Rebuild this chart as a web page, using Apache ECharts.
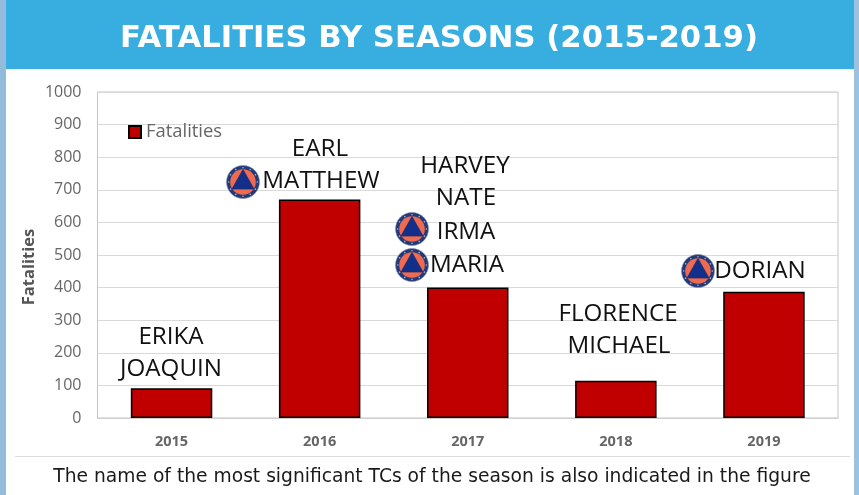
<!DOCTYPE html>
<html><head><meta charset="utf-8">
<style>html,body{margin:0;padding:0;background:#fff;overflow:hidden}#c{width:859px;height:495px}</style>
<script src="https://cdn.jsdelivr.net/npm/echarts@6/dist/echarts.min.js"></script>
</head><body><div id="c"></div>
<script>
const categories = ['2015','2016','2017','2018','2019'];
const fatalities = [91,670,400,114,387];
const yTicks = {min:0,max:1000,interval:100};
const stormNames = [
  ['ERIKA',171,337],['JOAQUIN',171,369],
  ['EARL',320,149],['MATTHEW',321,181],
  ['HARVEY',465,166],['NATE',466,198],['IRMA',466,232],['MARIA',467,265],
  ['FLORENCE',618,314],['MICHAEL',619,346],
  ['DORIAN',760,271]
];
const emblemCentres = [[243,182],[412,229],[412,265],[698,271]];
const titleText = 'FATALITIES BY SEASONS (2015-2019)';
const footerText = 'The name of the most significant TCs of the season is also indicated in the figure';

function emblem(c){
  const [x,y]=c;
  const stars=[];
  for(let i=0;i<12;i++){
    const a=i*Math.PI/6;
    stars.push({type:'circle',z:11,shape:{cx:x+Math.cos(a)*14.3,cy:y+Math.sin(a)*14.3,r:0.8},style:{fill:'#aab4cf'},silent:true});
  }
  return [
    {type:'circle',z:10,shape:{cx:x,cy:y,r:16.5},style:{fill:'#243a78',stroke:'#7f8db0',lineWidth:0.6},silent:true},
    ...stars,
    {type:'circle',z:12,shape:{cx:x,cy:y,r:12.8},style:{fill:'#ee6b52'},silent:true},
    {type:'polygon',z:13,shape:{points:[[x,y-12.5],[x+11,y+7],[x-11,y+7]]},style:{fill:'#12308a',stroke:'#1c2a66',lineWidth:0.7},silent:true}
  ];
}
const graphics = [
  {type:'rect',z:5,shape:{x:0,y:0,width:6,height:495},style:{fill:'#93bcdc'},silent:true},
  {type:'rect',z:5,shape:{x:854,y:0,width:5,height:495},style:{fill:'#9dc2df'},silent:true},
  {type:'rect',z:5,shape:{x:6,y:0,width:848,height:69},style:{fill:'#38ade0'},silent:true},
  {type:'text',z:10,x:439,y:39,style:{text:titleText,fill:'#fff',font:'bold 30.7px "DejaVu Sans"',align:'center',verticalAlign:'middle'},silent:true},
  {type:'rect',z:5,shape:{x:15,y:456,width:835,height:1},style:{fill:'#dcdcdc'},silent:true},
  {type:'text',z:10,x:432,y:477,style:{text:footerText,fill:'#1a1a1a',font:'18.7px "DejaVu Sans"',align:'center',verticalAlign:'middle'},silent:true},
  ...stormNames.map(n=>({type:'text',z:10,x:n[1],y:n[2],style:{text:n[0],fill:'#111',font:'24.2px "Open Sans"',align:'center',verticalAlign:'middle'},silent:true})),
  ...emblemCentres.flatMap(emblem)
];
const chart = echarts.init(document.getElementById('c'),null,{renderer:'canvas'});
chart.setOption({
  animation:false,
  backgroundColor:'#fff',
  grid:{left:97.5,right:21,top:92,bottom:77,show:true,borderColor:'#c4c4c4',borderWidth:1,containLabel:false},
  legend:{show:true,left:123,top:118,itemWidth:12,itemHeight:12,itemGap:4,icon:'rect',
    textStyle:{fontFamily:'Open Sans',fontSize:18.4,color:'#666',padding:[0,0,0,0]},data:['Fatalities']},
  xAxis:{type:'category',data:categories,
    axisTick:{show:false},axisLine:{lineStyle:{color:'#d0d0d0',width:1}},splitLine:{show:false},
    axisLabel:{fontFamily:'Open Sans',fontWeight:'bold',fontSize:14.5,color:'#666',margin:16}},
  yAxis:{type:'value',min:yTicks.min,max:yTicks.max,interval:yTicks.interval,
    name:'Fatalities',nameLocation:'middle',nameGap:60,nameRotate:90,nameMoveOverlap:false,
    nameTextStyle:{fontFamily:'Open Sans',fontWeight:'bold',fontSize:16.5,color:'#555',padding:[0,24,0,0]},
    axisLine:{show:false},axisTick:{show:false},splitLine:{lineStyle:{color:'#d9d9d9',width:1}},
    axisLabel:{fontFamily:'Open Sans',fontSize:16,color:'#666',margin:16,formatter:v=>String(v)}},
  series:[{name:'Fatalities',type:'bar',data:fatalities,barWidth:'55%',
    itemStyle:{color:'#c00000',borderColor:'#000',borderWidth:1.5}}],
  graphic:graphics
});
</script></body></html>
